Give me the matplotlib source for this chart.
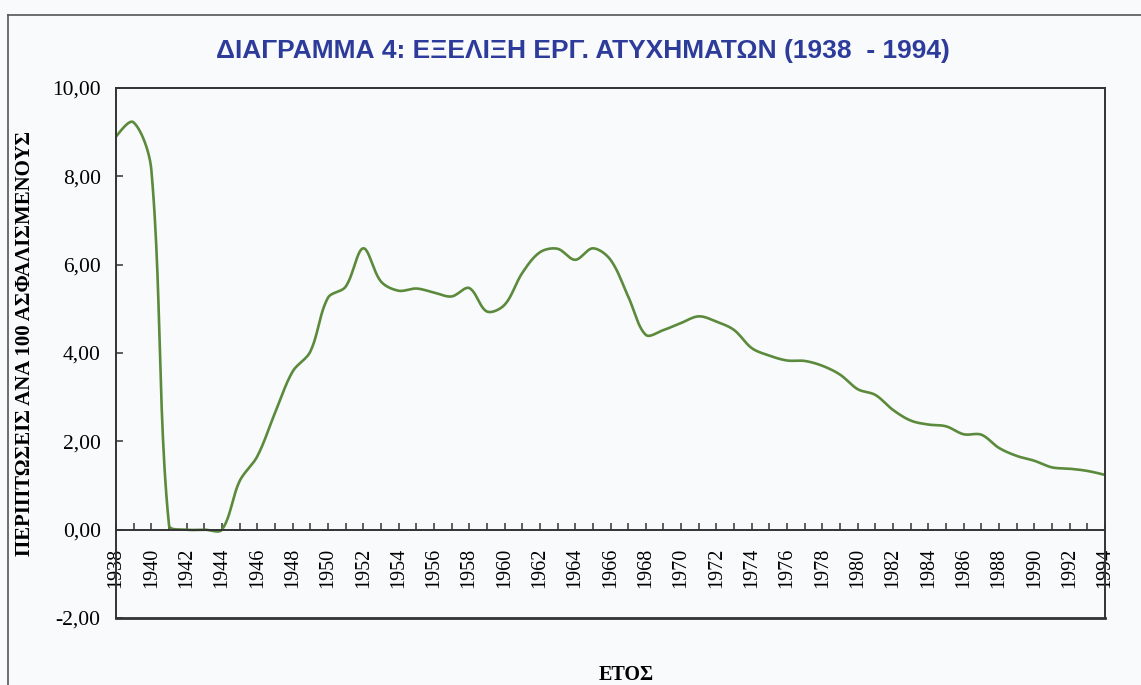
import numpy as np
import matplotlib
matplotlib.use("Agg")
import matplotlib.pyplot as plt
from matplotlib.ticker import FuncFormatter, MultipleLocator
from matplotlib.lines import Line2D

# yearly values (cases per 100 insured)
years = list(range(1938, 1995))
rates = [8.90, 9.22, 8.15, 0.10, 0.00, 0.00, 0.00, 1.10, 1.66, 2.64,
         3.58, 4.03, 5.25, 5.50, 6.37, 5.62, 5.41, 5.46, 5.37, 5.28,
         5.47, 4.94, 5.09, 5.81, 6.28, 6.36, 6.11, 6.37, 6.11, 5.28,
         4.41, 4.52, 4.68, 4.83, 4.71, 4.52, 4.11, 3.94, 3.83, 3.82,
         3.71, 3.51, 3.18, 3.05, 2.71, 2.47, 2.38, 2.34, 2.16, 2.15,
         1.85, 1.67, 1.56, 1.41, 1.38, 1.33, 1.24]

title = "ΔΙΑΓΡΑΜΜΑ 4: ΕΞΕΛΙΞΗ ΕΡΓ. ΑΤΥΧΗΜΑΤΩΝ (1938  - 1994)"
ylabel = "ΠΕΡΙΠΤΩΣΕΙΣ ΑΝΑ 100 ΑΣΦΑΛΙΣΜΕΝΟΥΣ"
xlabel = "ΕΤΟΣ"

bg = "#f8fafb"
line_col = "#5b8a3c"
axis_col = "#333333"


def smooth(x, y, sx=17.7, sy=44.2, n=24):
    # bezier smoothing in screen units, tangents split by chord length
    P = np.column_stack([np.asarray(x, float) * sx, np.asarray(y, float) * sy])
    m = len(P)
    cin = P.copy()
    cout = P.copy()
    for i in range(1, m - 1):
        T = P[i + 1] - P[i - 1]
        dp = np.linalg.norm(P[i] - P[i - 1])
        dn = np.linalg.norm(P[i + 1] - P[i])
        cin[i] = P[i] - T / 3 * dp / (dp + dn)
        cout[i] = P[i] + T / 3 * dn / (dp + dn)
    cout[0] = P[0] + (cin[1] - P[0]) / 2
    cin[-1] = P[-1] + (cout[-2] - P[-1]) / 2
    t = np.linspace(0, 1, n, endpoint=False)[:, None]
    out = []
    for i in range(m - 1):
        a, b, c, d = P[i], cout[i], cin[i + 1], P[i + 1]
        out.append((1 - t) ** 3 * a + 3 * (1 - t) ** 2 * t * b
                   + 3 * (1 - t) * t ** 2 * c + t ** 3 * d)
    out.append(P[-1][None, :])
    out = np.vstack(out)
    return out[:, 0] / sx, out[:, 1] / sy


fig = plt.figure(figsize=(11.41, 6.85), dpi=100, facecolor=bg)
ax = fig.add_axes([116 / 1141, 1 - 618 / 685, (1105 - 116) / 1141, (618 - 88) / 685])
ax.set_facecolor(bg)

cx, cy = smooth(years, rates)
ax.plot(cx, cy, color=line_col, lw=1.9, solid_capstyle="round")

ax.set_xlim(1938, 1994)
ax.set_ylim(-2, 10)

# category axis sits on the zero line
ax.spines["bottom"].set_position(("data", 0))
for s in ax.spines.values():
    s.set_color(axis_col)
    s.set_linewidth(1.4)
ax.axhline(-2, color=axis_col, lw=2.0, clip_on=False)

ax.xaxis.set_major_locator(MultipleLocator(2))
ax.xaxis.set_minor_locator(MultipleLocator(1))
ax.yaxis.set_major_locator(MultipleLocator(2))
ax.xaxis.set_major_formatter(FuncFormatter(lambda v, p: f"{int(round(v))}"))
ax.yaxis.set_major_formatter(FuncFormatter(lambda v, p: f"{v:.2f}".replace(".", ",")))

ax.tick_params(axis="x", which="both", direction="in", length=5, width=1.1,
               color=axis_col, pad=13)
ax.tick_params(axis="y", direction="in", length=5, width=1.1, color=axis_col, pad=11)
for lab in ax.get_xticklabels():
    lab.set_rotation(90)
    lab.set_fontfamily("Liberation Serif")
    lab.set_fontsize(14.5)
for lab in ax.get_yticklabels():
    lab.set_fontfamily("Liberation Serif")
    lab.set_fontsize(15.5)

fig.text(583 / 1141, 1 - 51 / 685, title, ha="center", va="center",
         color="#2d3c9b", fontsize=19, fontweight="bold", family="Liberation Sans")
fig.text(25 / 1141, 1 - 343 / 685, ylabel, rotation=90, ha="center", va="center",
         fontsize=15, fontweight="bold", family="Liberation Serif")
fig.text(626 / 1141, 1 - 675 / 685, xlabel, ha="center", va="center",
         fontsize=14.5, fontweight="bold", family="Liberation Serif")

# frame of the scanned page
fy = 1 - 15 / 685
fx = 8 / 1141
fig.add_artist(Line2D([fx, 1], [fy, fy], color="#555555", lw=1.2, transform=fig.transFigure))
fig.add_artist(Line2D([fx, fx], [fy, 0], color="#555555", lw=1.2, transform=fig.transFigure))

fig.savefig("out.png", dpi=100, facecolor=bg)
